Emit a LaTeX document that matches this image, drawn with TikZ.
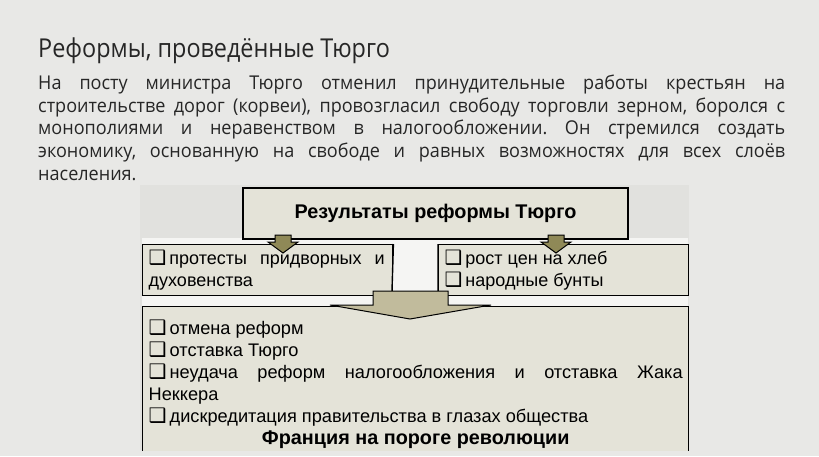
\documentclass[tikz,border=0pt]{standalone}
\usepackage{fontspec}
\setmainfont{Liberation Sans}
\newfontfamily\slidefont[FakeStretch=0.9]{Open Sans}
\newfontfamily\bodyfont[FakeStretch=0.95]{Open Sans}
\newfontfamily\symfont{DejaVu Sans}
\usetikzlibrary{positioning}

\definecolor{slidebg}{HTML}{E8E8E6}
\definecolor{photobg}{HTML}{E1E1DE}
\definecolor{gapwhite}{HTML}{F5F5F3}
\definecolor{boxfill}{HTML}{E4E3D8}
\definecolor{olive}{HTML}{8F8957}
\definecolor{khaki}{HTML}{C1BB9C}
\definecolor{ink}{HTML}{262626}

\newcommand{\itm}{{\symfont\scalebox{1.1}{\char"2751}}\,}
\frenchspacing

\begin{document}
\begin{tikzpicture}[x=1pt, y=-1pt,
    resbox/.style={draw=black, line width=1.4pt, fill=boxfill, inner sep=0pt},
    blockarrow/.style={draw=black, line width=1pt, line join=miter}]
    \useasboundingbox (0,0) rectangle (819,456);
    \fill[slidebg] (0,0) rectangle (819,456);

    % slide text
    \node[anchor=west, inner sep=0pt, text=ink,
          font=\slidefont\fontsize{26}{30}\selectfont] (title) at (38,51)
          {Реформы, проведённые Тюрго};
    \node[anchor=north west, inner sep=0pt, text=ink, text width=747pt, align=justify,
          font=\bodyfont\fontsize{19}{22.6}\selectfont] (intro) at (38,75)
          {На посту министра Тюрго отменил принудительные работы крестьян на\linebreak
           строительстве дорог (корвеи), провозгласил свободу торговли зерном, боролся с\linebreak
           монополиями и неравенством в налогообложении. Он стремился создать\linebreak
           экономику, основанную на свободе и равных возможностях для всех слоёв\linebreak
           населения.};

    % picture
    \begin{scope}
    \clip (140,185) rectangle (689,450);
    \fill[photobg] (140,185) rectangle (689,450);
    \fill[gapwhite] (142,238) rectangle (688,307);

    \node[resbox, minimum width=385pt, minimum height=51pt,
          font=\bfseries\fontsize{19.8}{22}\selectfont] (result) at (435.5,213.5)
          {Результаты реформы Тюрго};
    \node[resbox, anchor=north west, minimum width=250pt, minimum height=51pt] (court) at (142,244)
          {\parbox[c][51pt][c]{250pt}{\hspace*{6pt}\parbox{236pt}{\fontsize{18}{22}\selectfont
           \itm протесты придворных и\linebreak духовенства}}};
    \node[resbox, anchor=north west, minimum width=250pt, minimum height=51pt] (bread) at (438,244)
          {\parbox[c][51pt][c]{250pt}{\hspace*{6pt}\parbox{236pt}{\fontsize{18}{22}\selectfont
           \raggedright\itm рост цен на хлеб\\ \itm народные бунты}}};
    \node[resbox, anchor=north west, minimum width=546pt, minimum height=160pt] (outcome) at (142,306)
          {\parbox[t][160pt][t]{546pt}{\vspace{13pt}\hspace*{6pt}\parbox[t]{534pt}{\fontsize{18.2}{22}\selectfont
           \itm отмена реформ\\
           \itm отставка Тюрго\\
           \itm неудача реформ налогообложения и отставка Жака\linebreak Неккера\\
           \itm дискредитация правительства в глазах общества\\
           \hspace*{\fill}{\bfseries\fontsize{19.8}{22}\selectfont Франция на пороге революции}\hspace*{\fill}\null}}};

    % small arrows from the title box
    \foreach \ax in {283,556}
        \filldraw[blockarrow, fill=olive]
            (\ax-8,235) -- (\ax+8,235) -- (\ax+8,242) -- (\ax+15,242) -- (\ax,253)
            -- (\ax-15,242) -- (\ax-8,242) -- cycle;

    % big arrow down to the outcome box
    \fill[gapwhite] (court.north east) rectangle (392+46,291);
    \draw[line width=1.4pt] (court.north east) -- (392,291)
        (bread.north west) -- (438,291);
    \filldraw[blockarrow, fill=khaki]
        (373,291) -- (448,291) -- (448,305) -- (491,305) -- (410,319)
        -- (330,305) -- (373,305) -- cycle;
    \end{scope}
\end{tikzpicture}
\end{document}
